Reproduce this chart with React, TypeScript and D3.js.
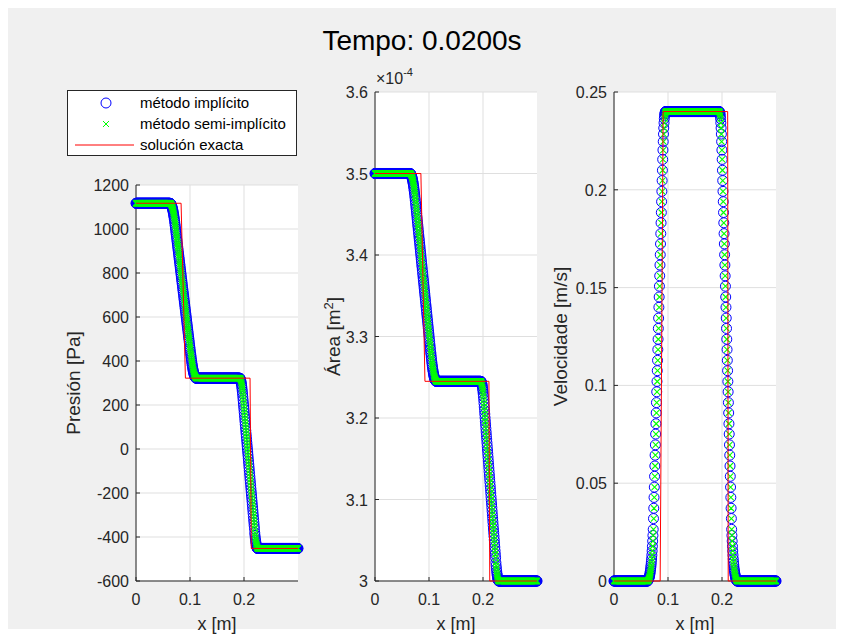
import React, { useEffect, useRef } from 'react';
import * as d3 from 'd3';

// malla espacial
const nodeCount = 600;
const xLength = 0.3;
const xTicks = [0, 0.1, 0.2];
const xTickLabels = ['0', '0.1', '0.2'];

// estados constantes (izquierda, central, derecha)
const presionLevels = [1117, 322, -452];
const areaLevels = [3.5e-4, 3.245e-4, 3.0e-4];
const velocidadLevels = [0, 0.24, 0];

// perfiles de las ondas (fraccion del salto, nodo a nodo)
const rarefactionProfile = [
  0.0003, 0.0013, 0.0029, 0.0052, 0.0081, 0.0117, 0.0159, 0.0208, 0.0263, 0.0325,
  0.0393, 0.0468, 0.0549, 0.0637, 0.0731, 0.0832, 0.0939, 0.1053, 0.1173, 0.13,
  0.143, 0.156, 0.169, 0.181, 0.194, 0.207, 0.220, 0.233, 0.246, 0.258, 0.271, 0.284, 0.297, 0.310,
  0.322, 0.335, 0.348, 0.361, 0.374, 0.386, 0.399, 0.412, 0.425, 0.438, 0.450, 0.463, 0.476, 0.489,
  0.502, 0.514, 0.527, 0.540, 0.553, 0.566, 0.578, 0.591, 0.604, 0.617, 0.630, 0.642, 0.655, 0.668,
  0.681, 0.694, 0.706, 0.719, 0.732, 0.745, 0.758, 0.770, 0.783, 0.796, 0.809, 0.822, 0.834, 0.847,
  0.860, 0.870,
  0.8827, 0.8947, 0.9061, 0.9168, 0.9269, 0.9363, 0.9451, 0.9532, 0.9607, 0.9675,
  0.9737, 0.9792, 0.9841, 0.9883, 0.9919, 0.9948, 0.9971, 0.9987, 0.9997, 1.0];
const shockProfile = [
  0.0008, 0.0031, 0.0069, 0.0122, 0.0191, 0.0275, 0.0374, 0.0489, 0.0619, 0.0764, 0.0924, 0.11,
  0.128, 0.146, 0.164, 0.182, 0.200, 0.218, 0.236, 0.254, 0.272, 0.290, 0.308, 0.326, 0.344, 0.362,
  0.380, 0.398, 0.416, 0.434, 0.452, 0.470, 0.488, 0.506, 0.524, 0.542, 0.560, 0.578, 0.596, 0.614,
  0.632, 0.650, 0.668, 0.686, 0.704, 0.722, 0.740, 0.758, 0.776, 0.794, 0.812, 0.830, 0.848, 0.866, 0.884,
  0.9076, 0.9236, 0.9381, 0.9511, 0.9626, 0.9725, 0.9809, 0.9878, 0.9931, 0.9969, 0.9992, 1.0];
const velocidadRiseProfile = [
  0.001, 0.002, 0.003, 0.004, 0.006, 0.008, 0.010, 0.013, 0.016, 0.020,
  0.024, 0.029, 0.034, 0.040, 0.047, 0.055, 0.064, 0.074, 0.085, 0.097,
  0.110, 0.133, 0.155, 0.178, 0.200, 0.223, 0.245, 0.268, 0.290, 0.313, 0.335, 0.358,
  0.380, 0.403, 0.425, 0.448, 0.470, 0.493, 0.515, 0.538, 0.560, 0.583, 0.605, 0.628,
  0.650, 0.673, 0.695, 0.718, 0.740, 0.763, 0.785, 0.808, 0.830, 0.853, 0.875, 0.898,
  0.918, 0.936, 0.952, 0.965, 0.976, 0.985, 0.991, 0.995, 0.998, 0.999];
const velocidadFallProfile = [
  0.001, 0.002, 0.005, 0.009, 0.015, 0.024, 0.035, 0.048, 0.064, 0.082,
  0.102, 0.125, 0.147, 0.170, 0.192, 0.215, 0.237, 0.260, 0.282, 0.305, 0.327, 0.350,
  0.372, 0.395, 0.417, 0.440, 0.462, 0.485, 0.507, 0.530, 0.552, 0.575, 0.597, 0.620,
  0.642, 0.665, 0.687, 0.710, 0.732, 0.755, 0.777, 0.800, 0.822, 0.845, 0.867, 0.890,
  0.903, 0.915, 0.926, 0.936, 0.945, 0.953, 0.960, 0.966, 0.972, 0.977,
  0.981, 0.985, 0.988, 0.991, 0.993, 0.995, 0.997, 0.998, 0.999, 1.0];

// nodo donde empieza cada onda
const presionStartsImplicit = [126, 384];
const areaStartsImplicit = [130, 392];
const velocidadStartsImplicit = [125, 390];
const presionStartsSemi = [127, 385];
const areaStartsSemi = [131, 392];
const velocidadStartsSemi = [126, 390];

// solucion exacta
const presionExactX = [0, 0.0835, 0.0915, 0.2112, 0.2135, 0.3];
const presionExactY = [1117, 1117, 322, 322, -452, -452];
const areaExactX = [0, 0.085, 0.0925, 0.211, 0.2125, 0.3];
const areaExactY = [3.5e-4, 3.5e-4, 3.245e-4, 3.245e-4, 3.0e-4, 3.0e-4];
const velocidadExactX = [0, 0.0855, 0.091, 0.2105, 0.2115, 0.3];
const velocidadExactY = [0, 0, 0.24, 0.24, 0, 0];

// ticks del eje y
const presionTicks = [-600, -400, -200, 0, 200, 400, 600, 800, 1000, 1200];
const presionTickLabels = ['-600', '-400', '-200', '0', '200', '400', '600', '800', '1000', '1200'];
const areaTicks = [3.0e-4, 3.1e-4, 3.2e-4, 3.3e-4, 3.4e-4, 3.5e-4, 3.6e-4];
const areaTickLabels = ['3', '3.1', '3.2', '3.3', '3.4', '3.5', '3.6'];
const velocidadTicks = [0, 0.05, 0.1, 0.15, 0.2, 0.25];
const velocidadTickLabels = ['0', '0.05', '0.1', '0.15', '0.2', '0.25'];

const legendLabels = ['método implícito', 'método semi-implícito', 'solución exacta'];

const FONT = '"Liberation Sans", Arial, Helvetica, sans-serif';
const AXIS_COLOR = '#262626';

function buildSeries(levels: number[], starts: number[], shapes: number[][]) {
  const values: number[] = [];
  for (let i = 0; i < nodeCount; i++) {
    let v = levels[2];
    if (i < starts[0]) v = levels[0];
    else if (i < starts[0] + shapes[0].length) v = levels[0] + (levels[1] - levels[0]) * shapes[0][i - starts[0]];
    else if (i < starts[1]) v = levels[1];
    else if (i < starts[1] + shapes[1].length) v = levels[1] + (levels[2] - levels[1]) * shapes[1][i - starts[1]];
    values.push(v);
  }
  return values;
}

export default function App() {
  const ref = useRef<SVGSVGElement>(null);

  useEffect(() => {
    const svg = d3.select(ref.current);
    svg.selectAll('*').remove();

    svg.append('rect').attr('width', 844).attr('height', 637).attr('fill', '#ffffff');
    svg.append('rect').attr('x', 8).attr('y', 8).attr('width', 828).attr('height', 621).attr('fill', '#f0f0f0');

    const xGrid = d3.range(nodeCount).map((i) => (i * xLength) / (nodeCount - 1));

    const panels = [
      {
        left: 136, top: 185, domain: [-600, 1200], ticks: presionTicks, tickLabels: presionTickLabels,
        label: 'Presión [Pa]', labelX: 80,
        implicit: buildSeries(presionLevels, presionStartsImplicit, [rarefactionProfile, shockProfile]),
        semi: buildSeries(presionLevels, presionStartsSemi, [rarefactionProfile, shockProfile]),
        exactX: presionExactX, exactY: presionExactY,
      },
      {
        left: 375, top: 92, domain: [3.0e-4, 3.6e-4], ticks: areaTicks, tickLabels: areaTickLabels,
        label: 'Área [m', labelX: 340, sup: true,
        implicit: buildSeries(areaLevels, areaStartsImplicit, [rarefactionProfile, shockProfile]),
        semi: buildSeries(areaLevels, areaStartsSemi, [rarefactionProfile, shockProfile]),
        exactX: areaExactX, exactY: areaExactY,
      },
      {
        left: 614, top: 92, domain: [0, 0.25], ticks: velocidadTicks, tickLabels: velocidadTickLabels,
        label: 'Velocidade [m/s]', labelX: 567,
        implicit: buildSeries(velocidadLevels, velocidadStartsImplicit, [velocidadRiseProfile, velocidadFallProfile]),
        semi: buildSeries(velocidadLevels, velocidadStartsSemi, [velocidadRiseProfile, velocidadFallProfile]),
        exactX: velocidadExactX, exactY: velocidadExactY,
      },
    ];

    const width = 162;
    const bottom = 581;

    panels.forEach((p, k) => {
      const x = d3.scaleLinear().domain([0, xLength]).range([p.left, p.left + width]);
      const y = d3.scaleLinear().domain(p.domain).range([bottom, p.top]);
      const g = svg.append('g');

      g.append('rect')
        .attr('x', p.left).attr('y', p.top)
        .attr('width', width).attr('height', bottom - p.top)
        .attr('fill', '#ffffff');

      // rejilla
      g.selectAll('.gx').data(xTicks).enter().append('line')
        .attr('x1', (d) => x(d)).attr('x2', (d) => x(d))
        .attr('y1', p.top).attr('y2', bottom)
        .attr('stroke', '#dfdfdf').attr('stroke-width', 1);
      g.selectAll('.gy').data(p.ticks).enter().append('line')
        .attr('x1', p.left).attr('x2', p.left + width)
        .attr('y1', (d) => y(d)).attr('y2', (d) => y(d))
        .attr('stroke', '#dfdfdf').attr('stroke-width', 1);

      // ejes
      g.append('line').attr('x1', p.left).attr('x2', p.left).attr('y1', p.top).attr('y2', bottom)
        .attr('stroke', AXIS_COLOR).attr('stroke-width', 1);
      g.append('line').attr('x1', p.left).attr('x2', p.left + width).attr('y1', bottom).attr('y2', bottom)
        .attr('stroke', AXIS_COLOR).attr('stroke-width', 1);

      g.selectAll('.ty').data(p.ticks).enter().append('line')
        .attr('x1', p.left).attr('x2', p.left + 4)
        .attr('y1', (d) => y(d)).attr('y2', (d) => y(d))
        .attr('stroke', AXIS_COLOR);
      g.selectAll('.tx').data(xTicks).enter().append('line')
        .attr('x1', (d) => x(d)).attr('x2', (d) => x(d))
        .attr('y1', bottom).attr('y2', bottom - 4)
        .attr('stroke', AXIS_COLOR);

      g.selectAll('.ly').data(p.ticks).enter().append('text')
        .attr('x', p.left - 7).attr('y', (d) => y(d) + 6)
        .attr('text-anchor', 'end')
        .attr('font-family', FONT).attr('font-size', 16).attr('fill', AXIS_COLOR)
        .text((d, i) => p.tickLabels[i]);
      g.selectAll('.lx').data(xTicks).enter().append('text')
        .attr('x', (d) => x(d)).attr('y', 605)
        .attr('text-anchor', 'middle')
        .attr('font-family', FONT).attr('font-size', 16).attr('fill', AXIS_COLOR)
        .text((d, i) => xTickLabels[i]);

      g.append('text')
        .attr('x', p.left + width / 2).attr('y', 630)
        .attr('text-anchor', 'middle')
        .attr('font-family', FONT).attr('font-size', 18).attr('fill', AXIS_COLOR)
        .text('x [m]');

      const yl = g.append('text')
        .attr('transform', `translate(${p.labelX},${(p.top + bottom) / 2}) rotate(-90)`)
        .attr('text-anchor', 'middle')
        .attr('font-family', FONT).attr('font-size', 19).attr('fill', AXIS_COLOR);
      yl.append('tspan').text(p.label);
      if (p.sup) {
        yl.append('tspan').attr('font-size', 13).attr('dy', -7).text('2');
        yl.append('tspan').attr('dy', 7).text(']');
      }

      if (k === 1) {
        const ex = g.append('text')
          .attr('x', 376).attr('y', 84)
          .attr('font-family', FONT).attr('font-size', 16).attr('fill', AXIS_COLOR);
        ex.append('tspan').text('×10');
        ex.append('tspan').attr('font-size', 11).attr('dy', -8).text('-4');
      }

      // metodo implicito
      g.selectAll('.imp').data(p.implicit).enter().append('circle')
        .attr('cx', (d, i) => x(xGrid[i])).attr('cy', (d) => y(d))
        .attr('r', 5)
        .attr('fill', 'none').attr('stroke', '#0000ff').attr('stroke-width', 1);

      // metodo semi-implicito
      const s = 3;
      g.selectAll('.semi').data(p.semi).enter().append('path')
        .attr('d', (d, i) => {
          const cx = x(xGrid[i]);
          const cy = y(d);
          return `M${cx - s},${cy - s}L${cx + s},${cy + s}M${cx - s},${cy + s}L${cx + s},${cy - s}`;
        })
        .attr('fill', 'none').attr('stroke', '#00ff00').attr('stroke-width', 1.1);

      // solucion exacta
      const line = d3.line<number>()
        .x((d, i) => x(p.exactX[i]))
        .y((d) => y(d));
      g.append('path').datum(p.exactY)
        .attr('d', line)
        .attr('fill', 'none').attr('stroke', '#ff0000').attr('stroke-width', 1);
    });

    // titulo
    svg.append('text')
      .attr('x', 422).attr('y', 50)
      .attr('text-anchor', 'middle')
      .attr('font-family', FONT).attr('font-size', 28).attr('fill', '#000000')
      .text('Tempo: 0.0200s');

    // leyenda
    const lg = svg.append('g');
    lg.append('rect')
      .attr('x', 67.5).attr('y', 90.5).attr('width', 229).attr('height', 65)
      .attr('fill', '#ffffff').attr('stroke', AXIS_COLOR).attr('stroke-width', 1);
    const rows = [103, 124, 145];
    lg.append('circle').attr('cx', 106).attr('cy', rows[0]).attr('r', 5)
      .attr('fill', 'none').attr('stroke', '#0000ff');
    lg.append('path')
      .attr('d', `M103,${rows[1] - 3}L109,${rows[1] + 3}M103,${rows[1] + 3}L109,${rows[1] - 3}`)
      .attr('stroke', '#00ff00').attr('fill', 'none');
    lg.append('line').attr('x1', 75).attr('x2', 134).attr('y1', rows[2]).attr('y2', rows[2])
      .attr('stroke', '#ff0000');
    lg.selectAll('.lt').data(legendLabels).enter().append('text')
      .attr('x', 140).attr('y', (d, i) => rows[i] + 5)
      .attr('font-family', FONT).attr('font-size', 15).attr('fill', '#000000')
      .text((d) => d);
  }, []);

  return (
    <svg ref={ref} width={844} height={637} style={{ position: 'absolute', left: 0, top: 0 }} />
  );
}
